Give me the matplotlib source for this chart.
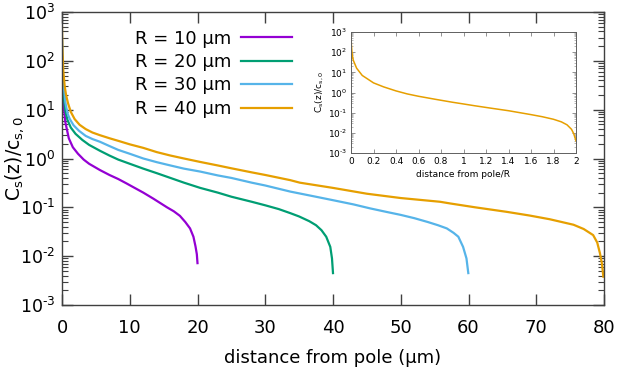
import matplotlib
matplotlib.use("Agg")
import matplotlib.pyplot as plt
from matplotlib.ticker import LogLocator, NullFormatter

# ---- data ----
labels = ["R = 10 μm", "R = 20 μm", "R = 30 μm", "R = 40 μm"]
colors = ["#9400d3", "#009e73", "#56b4e9", "#e69f00"]

d_r10 = [0.02, 0.1, 0.25, 0.5, 1.0, 1.6, 2.36, 3.2, 4.0, 5.6, 7, 8.3, 9.5, 10.5, 12, 13.5,
         15.5, 16.5, 17.4, 18.2, 18.9, 19.4, 19.7, 19.9, 20.0]
c_r10 = [60, 25, 12, 5.5, 2.6, 1.7, 1.25, 0.95, 0.78, 0.58, 0.46, 0.38, 0.31, 0.26, 0.2, 0.15,
         0.10, 0.083, 0.067, 0.05, 0.037, 0.025, 0.016, 0.011, 0.0072]

d_r20 = [0.02, 0.1, 0.25, 0.5, 0.8, 1.3, 2, 3, 4, 5.6, 7, 8.3, 10, 12, 14, 16, 18, 20.4, 23,
         25, 28, 30, 32, 33.7, 35, 36.5, 37.5, 38.3, 39, 39.6, 39.85, 40.0]
c_r20 = [120, 40, 18, 9.5, 6.2, 4.3, 3.2, 2.4, 1.9, 1.44, 1.15, 0.95, 0.78, 0.62, 0.5, 0.4, 0.32,
         0.25, 0.2, 0.165, 0.13, 0.11, 0.092, 0.076, 0.065, 0.052, 0.043, 0.034, 0.025, 0.0155,
         0.009, 0.0045]

d_r30 = [0.02, 0.1, 0.25, 0.5, 0.8, 1.13, 1.7, 2.5, 3.5, 4.5, 5.6, 7, 8.3, 10, 12, 14, 16, 18,
         20.4, 23, 25, 28, 30, 33.7, 37, 40, 43, 45.5, 48, 50, 52, 54, 55.5, 56.8, 57.8, 58.5,
         59.2, 59.7, 59.97]
c_r30 = [250, 70, 30, 14, 8.5, 6.5, 4.8, 3.7, 2.9, 2.5, 2.2, 1.8, 1.5, 1.25, 1.0, 0.84, 0.72,
         0.62, 0.54, 0.45, 0.4, 0.32, 0.28, 0.21, 0.17, 0.14, 0.115, 0.095, 0.08, 0.07, 0.06,
         0.05, 0.043, 0.037, 0.03, 0.025, 0.0155, 0.009, 0.0045]

d_r40 = [0.0, 0.05, 0.2, 0.4, 0.6, 0.89, 1.3, 1.87, 2.6, 3.5, 4.5, 5.6, 7, 8.3, 10, 12, 14, 16,
         18, 20.4, 23, 25, 28, 30, 33.7, 35.1, 40, 45, 50, 55.8, 57.3, 61, 65.6, 69, 72, 75.5,
         77, 78.4, 79, 79.4, 79.7, 79.9]
c_r40 = [500, 200, 60, 30, 20, 13.5, 9, 6.4, 4.9, 4.0, 3.4, 3.0, 2.6, 2.3, 1.95, 1.65, 1.35,
         1.15, 1.0, 0.85, 0.72, 0.63, 0.52, 0.46, 0.36, 0.32, 0.25, 0.19, 0.155, 0.13, 0.12,
         0.1, 0.081, 0.068, 0.057, 0.044, 0.036, 0.027, 0.019, 0.0115, 0.007, 0.0038]

u_inset = [0, 0.003, 0.01, 0.02, 0.05, 0.1, 0.14, 0.2, 0.29, 0.4, 0.5, 0.6, 0.75, 0.9, 1.0,
           1.1, 1.25, 1.4, 1.5, 1.6, 1.7, 1.8, 1.87, 1.92, 1.96, 1.98, 2.0]
c_inset = [700, 250, 80, 40, 16, 7, 5, 3, 1.9, 1.2, 0.85, 0.65, 0.46, 0.33, 0.27, 0.22, 0.165,
           0.125, 0.1, 0.08, 0.063, 0.047, 0.035, 0.025, 0.015, 0.009, 0.004]

xticks_main = [0, 10, 20, 30, 40, 50, 60, 70, 80]
xticks_inset = [0, 0.2, 0.4, 0.6, 0.8, 1, 1.2, 1.4, 1.6, 1.8, 2]
xtick_inset_labels = ["0", "0.2", "0.4", "0.6", "0.8", "1", "1.2", "1.4", "1.6", "1.8", "2"]
yticks = [1e-3, 1e-2, 1e-1, 1e0, 1e1, 1e2, 1e3]
ytick_labels = [r"10$^{\text{-}3}$", r"10$^{\text{-}2}$", r"10$^{\text{-}1}$",
                r"10$^{0}$", r"10$^{1}$", r"10$^{2}$", r"10$^{3}$"]

series_d = [d_r10, d_r20, d_r30, d_r40]
series_c = [c_r10, c_r20, c_r30, c_r40]

plt.rcParams['font.family'] = ['DejaVu Sans']
plt.rcParams['mathtext.default'] = 'regular'
spine_col = "#404040"

fig = plt.figure(figsize=(6.17, 3.73), dpi=100)
ax = fig.add_axes([62/617, 1-305/373, 542/617, 293/373])

for d, c, col, lab in zip(series_d, series_c, colors, labels):
    ax.plot(d, c, color=col, lw=1.6, label=lab)

ax.set_yscale("log")
ax.set_xlim(0, 80)
ax.set_ylim(1e-3, 1e3)
ax.set_xticks(xticks_main)
ax.set_xticklabels([str(t) for t in xticks_main])
ax.set_yticks(yticks)
ax.set_yticklabels(ytick_labels)
ax.yaxis.set_minor_locator(LogLocator(base=10, subs=range(2, 10), numticks=20))
ax.yaxis.set_minor_formatter(NullFormatter())
ax.tick_params(axis="both", which="major", direction="in", length=8, width=1,
               color=spine_col, labelsize=13, top=True, right=True)
ax.tick_params(axis="x", which="major", pad=10)
ax.tick_params(axis="y", which="major", pad=5, labelsize=12.5)
ax.tick_params(axis="y", which="minor", direction="in", length=4, width=0.8,
               color=spine_col, right=True, left=True)
ax.tick_params(axis="x", which="minor", bottom=False, top=False)
for s in ax.spines.values():
    s.set_color(spine_col)
    s.set_linewidth(1)
ax.set_xlabel("distance from pole (μm)", fontsize=13, labelpad=9)
ax.set_ylabel(r"C$_s$(z)/c$_{s,0}$", fontsize=13.5)
ax.yaxis.set_label_coords(-0.066, 0.5)

leg = ax.legend(loc="upper right", bbox_to_anchor=(0.424, 0.94), frameon=False,
                markerfirst=False, fontsize=13, handlelength=2.8, handletextpad=0.55,
                labelspacing=0.3, borderpad=0.0, borderaxespad=0.0)

# ---- inset ----
ax2 = fig.add_axes([351/617, 1-153/373, 225/617, 121/373])
ax2.plot(u_inset, c_inset, color=colors[3], lw=1.1)
ax2.set_yscale("log")
ax2.set_xlim(0, 2)
ax2.set_ylim(1e-3, 1e3)
ax2.set_xticks(xticks_inset)
ax2.set_xticklabels(xtick_inset_labels)
ax2.set_yticks(yticks)
ax2.set_yticklabels(ytick_labels)
ax2.yaxis.set_minor_locator(LogLocator(base=10, subs=range(2, 10), numticks=20))
ax2.yaxis.set_minor_formatter(NullFormatter())
ax2.tick_params(axis="both", which="major", direction="in", length=3, width=0.6,
                color="#808080", labelsize=6.5, top=True, right=True, pad=3)
ax2.tick_params(axis="y", which="minor", direction="in", length=1.5, width=0.4,
                color="#808080", right=True, left=True)
for s in ax2.spines.values():
    s.set_color("#606060")
    s.set_linewidth(0.7)
ax2.set_xlabel("distance from pole/R", fontsize=6.5, labelpad=3)
ax2.set_ylabel(r"C$_s$(z)/c$_{s,0}$", fontsize=6.5, labelpad=1)

fig.savefig("out.png", dpi=100)
